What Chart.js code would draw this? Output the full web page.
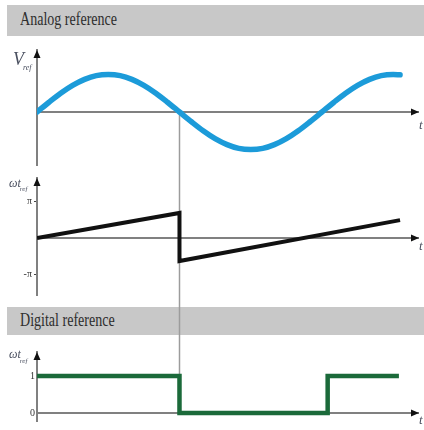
<!DOCTYPE html>
<html>
<head>
<meta charset="utf-8">
<script src="https://cdn.jsdelivr.net/npm/chart.js@4.4.1/dist/chart.umd.min.js"></script>
<style>
  html, body { margin: 0; padding: 0; background: #fff; }
  body { width: 424px; height: 430px; position: relative; overflow: hidden; }
  .bar { position: absolute; left: 7px; right: 0; background: #c8c8c8; }
  .bar span {
    position: absolute; left: 13px; white-space: nowrap;
    font: 18px/18px "Liberation Serif", serif; color: #2e2e2e;
    transform: scaleX(0.78); transform-origin: 0 0;
  }
  .panel { position: absolute; left: 0; width: 424px; }
  .panel canvas { display: block; }
</style>
</head>
<body>
<div class="bar" style="top:5px;height:31px"><span style="top:5px">Analog reference</span></div>
<div class="bar" style="top:307px;height:28px"><span style="top:4px">Digital reference</span></div>
<div class="panel" style="top:36px;height:134px"><canvas id="analog" width="424" height="134"></canvas></div>
<div class="panel" style="top:170px;height:130px"><canvas id="phase" width="424" height="130"></canvas></div>
<div class="panel" style="top:300px;height:130px"><canvas id="digital" width="424" height="130"></canvas></div>
<script>
// time is measured in periods of the reference signal
const T_MAX = 1.337;    // arrow tip of the time axes
const T_SWITCH = 0.5;   // first zero crossing, marked through all panels

// analog reference V_ref (normalised amplitude)
const sineT = [0, 0.042, 0.083, 0.125, 0.167, 0.208, 0.25, 0.292, 0.333, 0.375, 0.417, 0.458,
               0.5, 0.542, 0.583, 0.625, 0.667, 0.708, 0.75, 0.792, 0.833, 0.875, 0.917, 0.958,
               1.0, 1.042, 1.083, 1.125, 1.167, 1.208, 1.25, 1.274];
const sineV = [0, 0.26, 0.5, 0.71, 0.87, 0.97, 1, 0.97, 0.87, 0.71, 0.5, 0.26,
               0, -0.26, -0.5, -0.71, -0.87, -0.97, -1, -0.97, -0.87, -0.71, -0.5, -0.26,
               0, 0.26, 0.5, 0.71, 0.87, 0.97, 1, 0.99];

// phase angle ωt_ref, in multiples of π
const phaseT = [0, 0.5, 0.5, 1.274];
const phaseV = [0, 0.685, -0.63, 0.49];
const phaseTicks = [-1, 1];
const phaseTickLabels = ['-π', 'π'];

// digital reference (0 / 1)
const digT = [0, 0.5, 0.5, 1.02, 1.02, 1.27];
const digV = [1, 1, 0, 0, 1, 1];
const digTicks = [0, 1];
const digTickLabels = ['0', '1'];

const AXIS = '#808080';
const SERIF = '"Liberation Serif", serif';

function points(ts, vs) { return ts.map((t, i) => ({ x: t, y: vs[i] })); }

// axis arrows, axis titles and the marker line at T_SWITCH
const decor = {
  id: 'decor',
  beforeDatasetsDraw(chart, args, o) {
    const { ctx, scales: { x, y } } = chart;
    const px = Math.round(x.getPixelForValue(T_SWITCH)) + 0.5;
    const y0 = y.getPixelForValue(0);
    const top = o.vline === 'below' ? y0 : 0;
    const bottom = o.vline === 'above' ? y0 : chart.height;
    ctx.save();
    ctx.strokeStyle = '#9c9c9c';
    ctx.lineWidth = 1.5;
    ctx.beginPath();
    ctx.moveTo(px, top);
    ctx.lineTo(px, bottom);
    ctx.stroke();
    ctx.restore();
  },
  afterDraw(chart, args, o) {
    const { ctx, chartArea: a, scales: { y } } = chart;
    const y0 = y.getPixelForValue(0);
    ctx.save();
    ctx.fillStyle = '#111';
    ctx.beginPath();
    ctx.moveTo(a.left, a.top);
    ctx.lineTo(a.left - 3.5, a.top + 8);
    ctx.lineTo(a.left + 3.5, a.top + 8);
    ctx.closePath();
    ctx.fill();
    ctx.beginPath();
    ctx.moveTo(a.right + 1, y0);
    ctx.lineTo(a.right - 7, y0 - 3.5);
    ctx.lineTo(a.right - 7, y0 + 3.5);
    ctx.closePath();
    ctx.fill();

    ctx.fillStyle = '#4a5060';
    ctx.textBaseline = 'alphabetic';
    ctx.textAlign = 'left';
    ctx.font = `italic ${o.size}px ${SERIF}`;
    ctx.fillText(o.main, o.tx, a.top + o.ty);
    const w = ctx.measureText(o.main).width;
    ctx.font = `italic ${o.subSize}px ${SERIF}`;
    ctx.fillText(o.sub, o.tx + w - 1, a.top + o.ty + o.subDy);
    ctx.font = `italic 13px ${SERIF}`;
    ctx.fillText('t', a.right + 1, y0 + o.tDy);
    ctx.restore();
  }
};

function makePanel(id, dataset, yMin, yMax, pad, tickVals, tickLabels, decorOpts) {
  const hasTicks = tickVals.length > 0;
  const yScale = {
    type: 'linear', position: 'left', min: yMin, max: yMax,
    afterFit(s) { s.width = 37; s.paddingTop = 0; s.paddingBottom = 0; },
    ticks: {
      display: hasTicks,
      padding: 2,
      color: '#333',
      font: { family: SERIF, size: 10 },
      callback: (v, i) => tickLabels[i]
    },
    grid: {
      display: hasTicks, drawOnChartArea: false, drawTicks: decorOpts.tickMarks,
      tickLength: 3, tickColor: '#444', tickWidth: 1
    },
    border: { display: true, color: AXIS, width: 2 }
  };
  if (hasTicks) {
    yScale.afterBuildTicks = s => { s.ticks = tickVals.map(v => ({ value: v })); };
  }
  return new Chart(document.getElementById(id), {
    type: 'line',
    data: { datasets: [dataset] },
    options: {
      responsive: false,
      animation: false,
      events: [],
      layout: { padding: { top: pad[0], right: 6, bottom: pad[1], left: 0 } },
      elements: { point: { radius: 0 } },
      plugins: { legend: { display: false }, tooltip: { enabled: false }, decor: decorOpts },
      scales: {
        x: {
          type: 'linear', min: 0, max: T_MAX, position: { y: 0 },
          ticks: { display: false },
          grid: { display: false },
          border: { display: true, color: AXIS, width: 2 }
        },
        y: yScale
      }
    },
    plugins: [decor]
  });
}

makePanel('analog', {
  data: points(sineT, sineV),
  borderColor: '#1c9bd9', borderWidth: 5.5,
  cubicInterpolationMode: 'monotone', borderCapStyle: 'round'
}, -1.413, 1.653, [14, 5], [], [],
{ main: 'V', sub: 'ref', size: 18, subSize: 8, tx: 13, ty: 15, subDy: 5, tDy: 17, vline: 'below', tickMarks: false });

makePanel('phase', {
  data: points(phaseT, phaseV),
  borderColor: '#111', borderWidth: 4, tension: 0
}, -1.562, 1.644, [8, 5], phaseTicks, phaseTickLabels,
{ main: 'ωt', sub: 'ref', size: 12, subSize: 7, tx: 9, ty: 9, subDy: 4, tDy: 12, vline: 'full', tickMarks: true });

makePanel('digital', {
  data: points(digT, digV),
  borderColor: '#1b6a3a', borderWidth: 4.5, tension: 0
}, -0.216, 1.649, [52, 9], digTicks, digTickLabels,
{ main: 'ωt', sub: 'ref', size: 12, subSize: 7, tx: 9, ty: 6, subDy: 5, tDy: 11, vline: 'above', tickMarks: false });
</script>
</body>
</html>
